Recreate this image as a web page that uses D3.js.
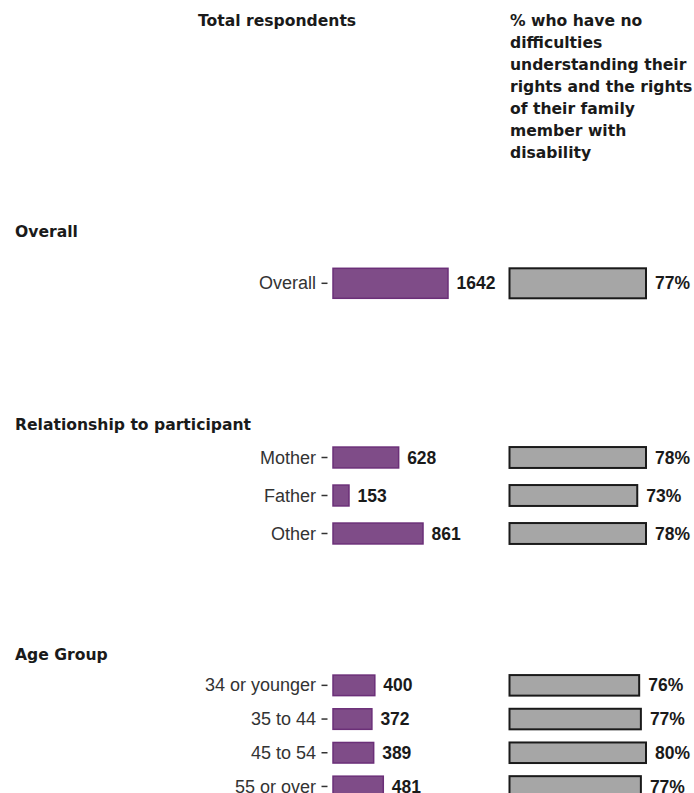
<!DOCTYPE html>
<html>
<head>
<meta charset="utf-8">
<script src="https://cdn.jsdelivr.net/npm/d3@7"></script>
<style>
  body { margin: 0; background: #fff; }
  svg { display: block; }
</style>
</head>
<body>
<svg id="chart" width="694" height="793"></svg>
<script>

// data
var groups = ["Overall", "Relationship to participant", "Age Group"];
var categories = [
  ["Overall"],
  ["Mother", "Father", "Other"],
  ["34 or younger", "35 to 44", "45 to 54", "55 or over"]
];
var respondents = [
  [1642],
  [628, 153, 861],
  [400, 372, 389, 481]
];
var pctNoDifficulty = [
  [77],
  [78, 73, 78],
  [76, 77, 80, 77]
];
var headerLeft = ["Total respondents"];
var headerRight = ["% who have no", "difficulties", "understanding their",
                   "rights and the rights", "of their family", "member with", "disability"];

// layout (per facet rows band + title)
var facetLayout = [
  {title: 237, y0: 258.3, y1: 308.3, pad: 0.4},
  {title: 429.5, y0: 438.5, y1: 552.5, pad: 0.45},
  {title: 660, y0: 668.5, y1: 803.3, pad: 0.39}
];

var titleFont = "'DejaVu Sans', sans-serif";
var labelFont = "'Liberation Sans', Arial, sans-serif";
var purple = "#7f4c88", purpleStroke = "#6b2f78";
var grey = "#a6a6a6", greyStroke = "#1a1a1a";

const svg = d3.select("#chart");

// purple bars share one scale, the big overall bar is cut off at the column edge
var xCount = d3.scaleLinear().domain([0, 1100]).range([333, 448]).clamp(true);

// headers
svg.append("g").selectAll("text")
    .data(headerLeft)
    .enter()
    .append("text")
    .attr("x", 198)
    .attr("y", (d, i) => 26 + i * 22)
    .attr("font-family", titleFont)
    .attr("font-weight", "bold")
    .attr("font-size", 15.6)
    .attr("fill", "#1a1a1a")
    .text(d => d);

svg.append("g").selectAll("text")
    .data(headerRight)
    .enter()
    .append("text")
    .attr("x", 510)
    .attr("y", (d, i) => 26 + i * 22)
    .attr("font-family", titleFont)
    .attr("font-weight", "bold")
    .attr("font-size", 15.6)
    .attr("fill", "#1a1a1a")
    .text(d => d);

groups.forEach(function(name, gi){
  var lay = facetLayout[gi];
  var rows = categories[gi].map((c, i) => ({cat: c, n: respondents[gi][i], pct: pctNoDifficulty[gi][i]}));

  var y = d3.scaleBand()
      .domain(categories[gi])
      .range([lay.y0, lay.y1])
      .paddingInner(lay.pad)
      .paddingOuter(lay.pad / 2);

  // each facet gets its own scale for the percentage column
  var xPct = d3.scaleLinear()
      .domain([0, d3.max(pctNoDifficulty[gi])])
      .range([509.5, 646]);

  var g = svg.append("g").attr("class", "facet");

  g.append("text")
      .attr("x", 15)
      .attr("y", lay.title)
      .attr("font-family", titleFont)
      .attr("font-weight", "bold")
      .attr("font-size", 15.6)
      .attr("fill", "#1a1a1a")
      .text(name);

  // category axis
  var axis = g.append("g")
      .attr("transform", "translate(327.5,0)")
      .call(d3.axisLeft(y).tickSize(6).tickPadding(5.5));
  axis.select(".domain").remove();
  axis.selectAll(".tick line").attr("stroke", "#333").attr("stroke-width", 1.5);
  axis.selectAll(".tick text")
      .attr("font-family", labelFont)
      .attr("font-size", 18)
      .attr("fill", "#333")
      .attr("dy", "0.34em");

  // purple bars - total respondents
  g.append("g").selectAll("rect")
      .data(rows)
      .enter()
      .append("rect")
      .attr("x", xCount(0))
      .attr("y", d => y(d.cat))
      .attr("width", d => xCount(d.n) - xCount(0))
      .attr("height", y.bandwidth())
      .attr("fill", purple)
      .attr("stroke", purpleStroke)
      .attr("stroke-width", 1.5);

  g.append("g").selectAll("text")
      .data(rows)
      .enter()
      .append("text")
      .attr("x", d => xCount(d.n) + 8.5)
      .attr("y", d => y(d.cat) + y.bandwidth() / 2)
      .attr("dy", "0.35em")
      .attr("font-family", labelFont)
      .attr("font-weight", "bold")
      .attr("font-size", 17.5)
      .attr("fill", "#1a1a1a")
      .text(d => d.n);

  // grey bars - % no difficulties
  g.append("g").selectAll("rect")
      .data(rows)
      .enter()
      .append("rect")
      .attr("x", xPct(0))
      .attr("y", d => y(d.cat))
      .attr("width", d => xPct(d.pct) - xPct(0))
      .attr("height", y.bandwidth())
      .attr("fill", grey)
      .attr("stroke", greyStroke)
      .attr("stroke-width", 2);

  g.append("g").selectAll("text")
      .data(rows)
      .enter()
      .append("text")
      .attr("x", d => xPct(d.pct) + 9)
      .attr("y", d => y(d.cat) + y.bandwidth() / 2)
      .attr("dy", "0.35em")
      .attr("font-family", labelFont)
      .attr("font-weight", "bold")
      .attr("font-size", 17.5)
      .attr("fill", "#1a1a1a")
      .text(d => d.pct + "%");
});

</script>
</body>
</html>
